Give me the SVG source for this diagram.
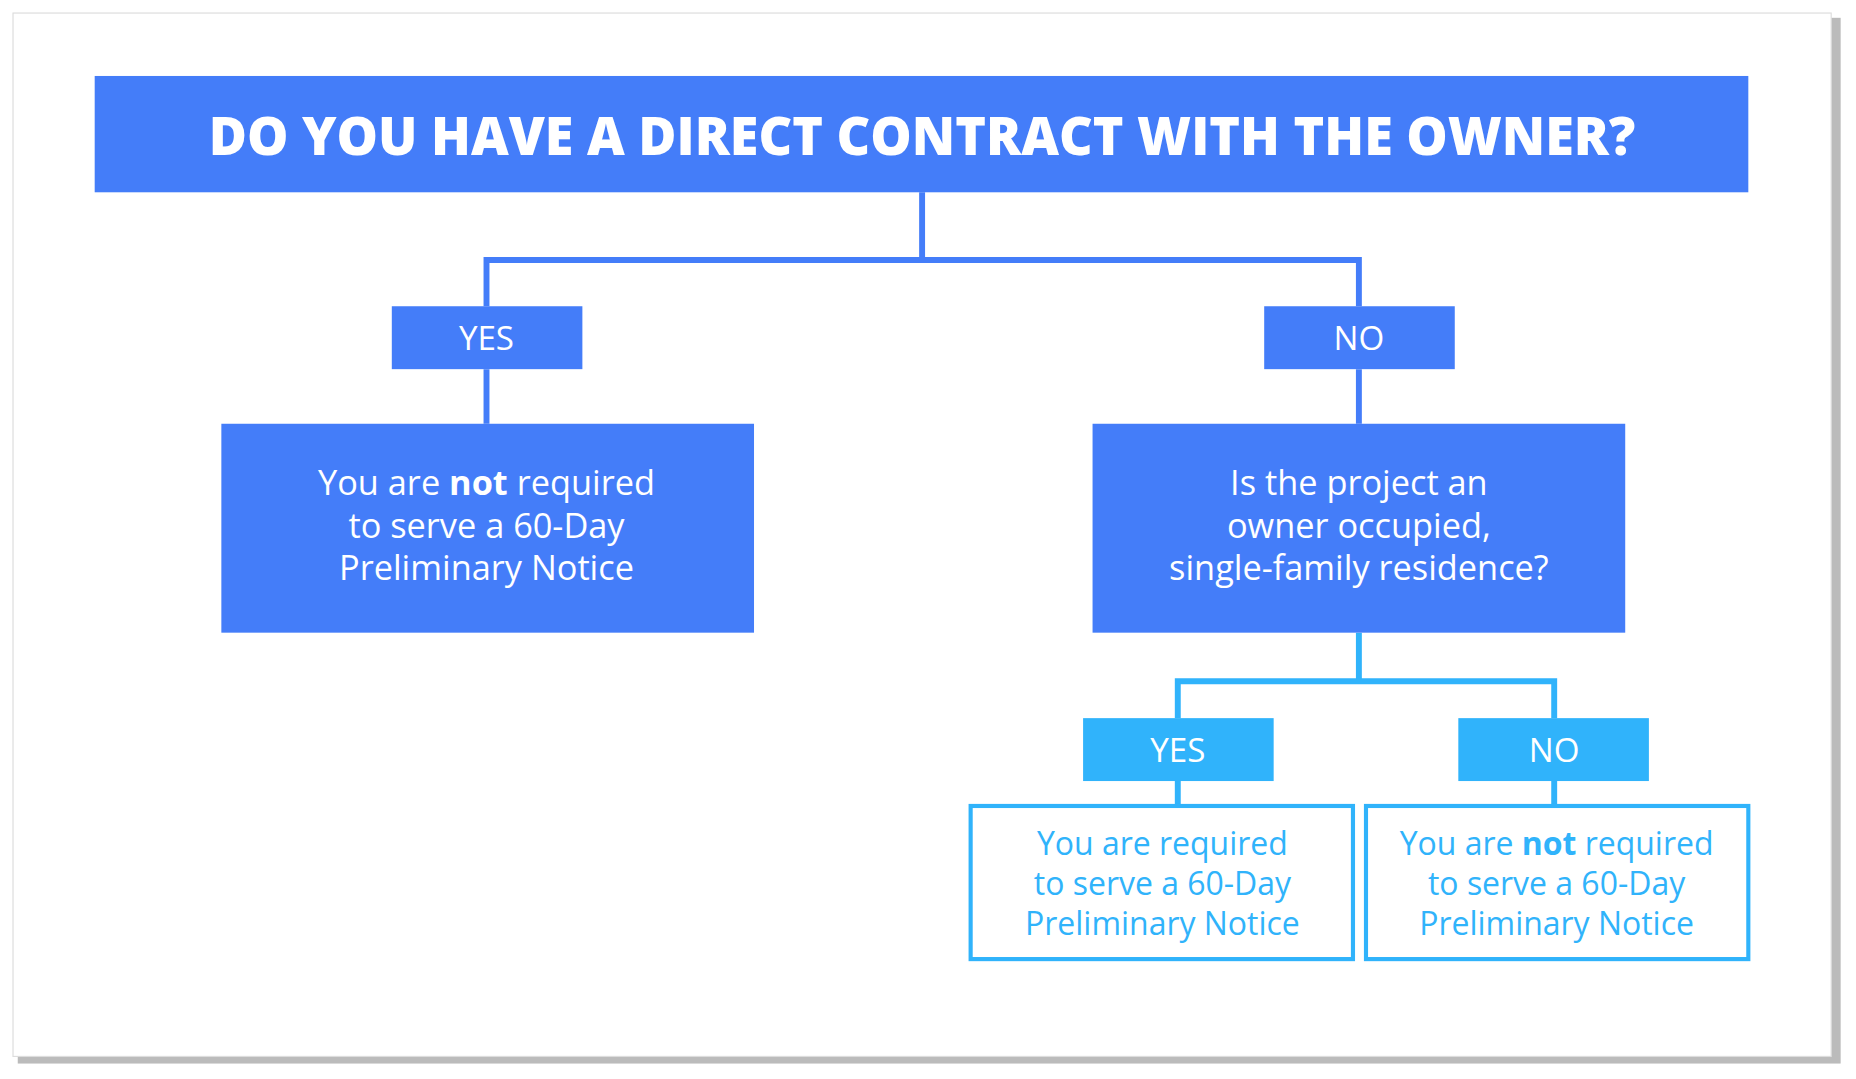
<svg xmlns="http://www.w3.org/2000/svg" width="1856" height="1079" viewBox="0 0 1856 1079">
<style>
.t{font-family:"Open Sans","Liberation Sans",sans-serif;text-anchor:middle}
.w{fill:#fff}.lb{fill:#30b3fb}
.dk{fill:#447df9}.lt{fill:#30b3fb}
.cd{stroke:#447df9;stroke-width:5;fill:none}
.cl{stroke:#30b3fb;stroke-width:5;fill:none}
.ob{fill:#fff;stroke:#30b3fb;stroke-width:3.5}
</style>
<rect width="1856" height="1079" fill="#fff"/>
<g transform="scale(1.1837,1.187)">
<rect x="15" y="15" width="1540" height="881" fill="#bbb"/>
<rect x="11" y="11" width="1536" height="879" fill="#fff" stroke="#ddd" stroke-width="1"/>
<g id="connectors">
<path class="cd" d="M779 162V219M411 258V219H1148V258M411 311V357M1148 311V357"/>
<path class="cl" d="M1148 533V574M995 605V574H1313V605M995 658V679M1313 658V679"/>
</g>
<g id="title"><rect class="dk" x="80" y="64" width="1397" height="98"/>
<text class="t w" x="779" y="131" font-size="44" font-weight="800">DO YOU HAVE A DIRECT CONTRACT WITH THE OWNER?</text></g>
<g id="yes1"><rect class="dk" x="331" y="258" width="161" height="53"/><text class="t w" x="411" y="295" font-size="28">YES</text></g>
<g id="no1"><rect class="dk" x="1068" y="258" width="161" height="53"/><text class="t w" x="1148" y="295" font-size="28">NO</text></g>
<g id="notreq1"><rect class="dk" x="187" y="357" width="450" height="176"/>
<text class="t w" font-size="29"><tspan x="411" y="417">You are <tspan font-weight="700">not</tspan> required</tspan><tspan x="411" y="453">to serve a 60-Day</tspan><tspan x="411" y="489">Preliminary Notice</tspan></text></g>
<g id="question"><rect class="dk" x="923" y="357" width="450" height="176"/>
<text class="t w" font-size="29"><tspan x="1148" y="417">Is the project an</tspan><tspan x="1148" y="453">owner occupied,</tspan><tspan x="1148" y="489">single-family residence?</tspan></text></g>
<g id="yes2"><rect class="lt" x="915" y="605" width="161" height="53"/><text class="t w" x="995" y="642" font-size="28">YES</text></g>
<g id="no2"><rect class="lt" x="1232" y="605" width="161" height="53"/><text class="t w" x="1313" y="642" font-size="28">NO</text></g>
<g id="req"><rect class="ob" x="820" y="679" width="323" height="129"/>
<text class="t lb" font-size="27"><tspan x="982" y="720">You are required</tspan><tspan x="982" y="754">to serve a 60-Day</tspan><tspan x="982" y="788">Preliminary Notice</tspan></text></g>
<g id="notreq2"><rect class="ob" x="1154" y="679" width="323" height="129"/>
<text class="t lb" font-size="27"><tspan x="1315" y="720">You are <tspan font-weight="700">not</tspan> required</tspan><tspan x="1315" y="754">to serve a 60-Day</tspan><tspan x="1315" y="788">Preliminary Notice</tspan></text></g>
</g>
</svg>
